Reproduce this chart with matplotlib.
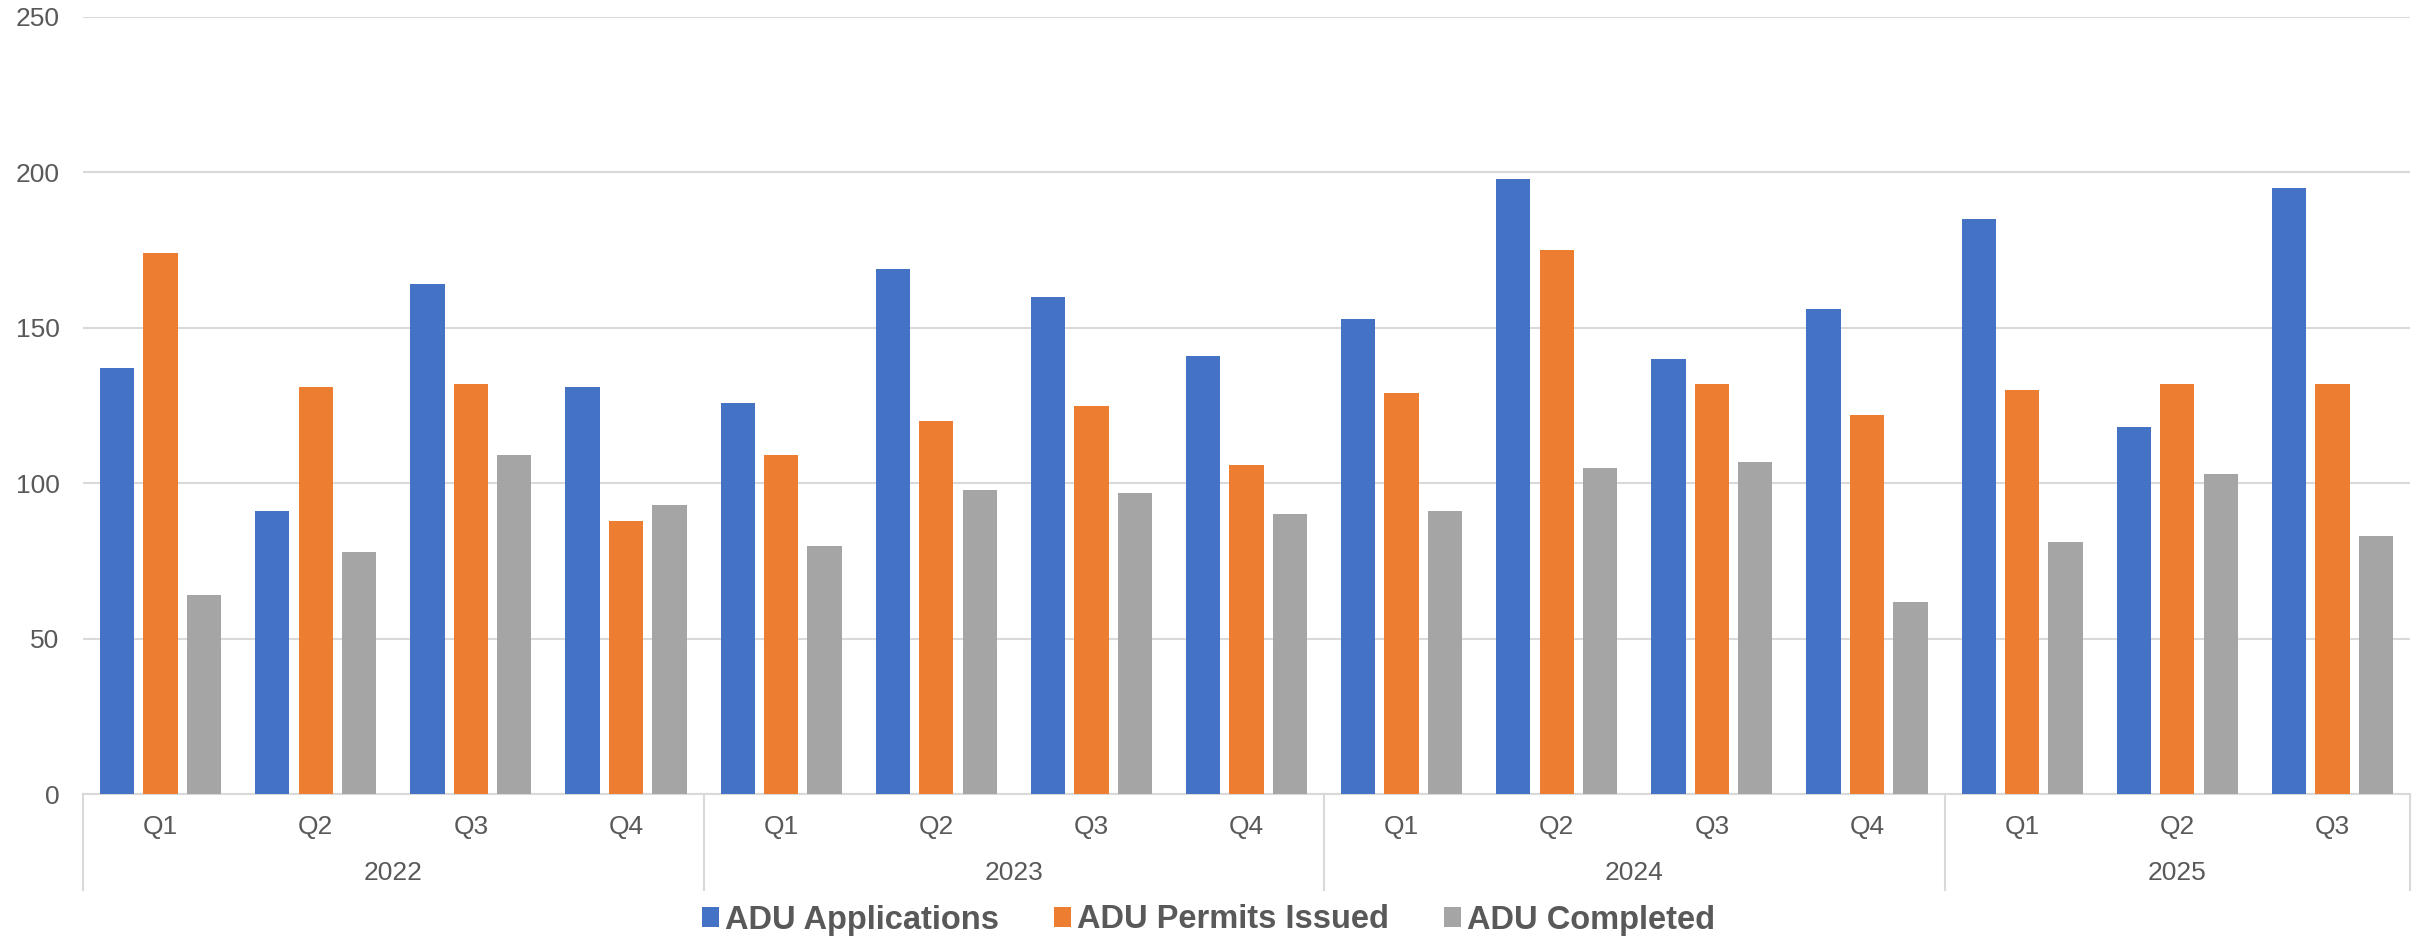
import numpy as np
import matplotlib
matplotlib.use("Agg")
import matplotlib.pyplot as plt
from matplotlib.patches import Patch
from matplotlib.lines import Line2D

# Quarterly ADU activity
years = ["2022", "2023", "2024", "2025"]
quarters_per_year = [4, 4, 4, 3]
quarter_labels = ["Q1", "Q2", "Q3", "Q4",
                  "Q1", "Q2", "Q3", "Q4",
                  "Q1", "Q2", "Q3", "Q4",
                  "Q1", "Q2", "Q3"]

applications = [137, 91, 164, 131,
                126, 169, 160, 141,
                153, 198, 140, 156,
                185, 118, 195]
permits_issued = [174, 131, 132, 88,
                  109, 120, 125, 106,
                  129, 175, 132, 122,
                  130, 132, 132]
completed = [64, 78, 109, 93,
             80, 98, 97, 90,
             91, 105, 107, 62,
             81, 103, 83]

series_names = ["ADU Applications", "ADU Permits Issued", "ADU Completed"]
series_colors = ["#4472C4", "#ED7D31", "#A5A5A5"]
y_ticks = [0, 50, 100, 150, 200, 250]

TEXT = "#595959"
GRID = "#D9D9D9"
LABEL_SIZE = 19
plt.rcParams["font.family"] = ["Liberation Sans", "DejaVu Sans"]

W, H = 2427, 939
fig = plt.figure(figsize=(W / 100, H / 100), dpi=100)
ax_left, ax_right = 83, 2410
ax_top, ax_bottom = 17, 794.3
ax = fig.add_axes([ax_left / W, (H - ax_bottom) / H,
                   (ax_right - ax_left) / W, (ax_bottom - ax_top) / H])

x = np.arange(len(quarter_labels))
bar_w = 0.221
step = 0.280
for i, (vals, name, col) in enumerate(zip([applications, permits_issued, completed],
                                          series_names, series_colors)):
    ax.bar(x + (i - 1) * step, vals, width=bar_w, color=col, label=name,
           zorder=3, linewidth=0)

ax.set_xlim(-0.5, len(quarter_labels) - 0.5)
ax.set_ylim(0, 250)
ax.set_yticks(y_ticks)
ax.set_yticklabels([str(v) for v in y_ticks])
ax.tick_params(axis="y", length=0, pad=17, labelsize=LABEL_SIZE, labelcolor=TEXT)
ax.set_xticks([])
ax.yaxis.grid(True, color=GRID, linewidth=1.5, zorder=0)
ax.set_axisbelow(True)
for s in ["top", "right", "left"]:
    ax.spines[s].set_visible(False)
ax.spines["bottom"].set_color(GRID)
ax.spines["bottom"].set_linewidth(1.5)

# Two-level category axis: quarters, then years with separators
axes_h = ax_bottom - ax_top
xt = ax.get_xaxis_transform()
q_y = -32.4 / axes_h
yr_y = -78.7 / axes_h
sep_bottom = -96.0 / axes_h
for xi, lab in zip(x, quarter_labels):
    ax.text(xi, q_y, lab, transform=xt, ha="center", va="center",
            fontsize=LABEL_SIZE, color=TEXT)

bounds = np.concatenate([[0], np.cumsum(quarters_per_year)]) - 0.5
for b in bounds:
    ax.add_line(Line2D([b, b], [0, sep_bottom], transform=xt, color=GRID,
                       linewidth=1.5, clip_on=False))
for yr, b0, b1 in zip(years, bounds[:-1], bounds[1:]):
    ax.text((b0 + b1) / 2, yr_y, yr, transform=xt, ha="center", va="center",
            fontsize=LABEL_SIZE, color=TEXT)

handles = [Patch(facecolor=c, edgecolor="none") for c in series_colors]
leg = fig.legend(handles, series_names, loc="center", ncol=3,
                 bbox_to_anchor=(1208.5 / W, 19 / H), frameon=False,
                 prop={"size": 23.5, "weight": "bold"},
                 handlelength=0.52, handleheight=0.53, handletextpad=0.18,
                 columnspacing=1.69, borderpad=0, borderaxespad=0)
for t in leg.get_texts():
    t.set_color(TEXT)

fig.savefig("out.png", dpi=100, facecolor="white")
